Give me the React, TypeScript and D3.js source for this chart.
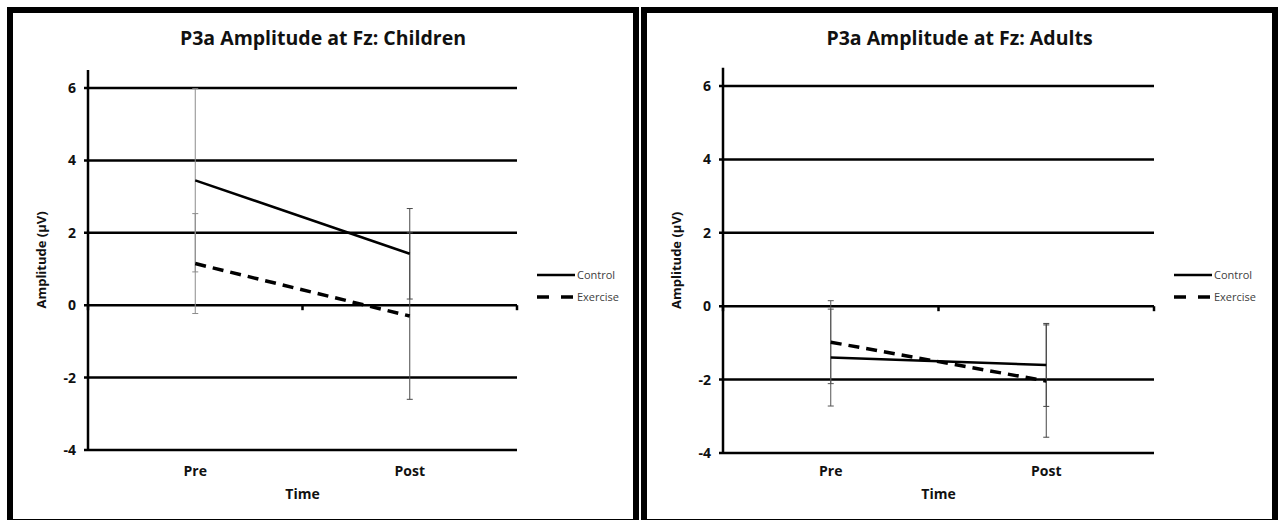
import * as d3 from "d3";

const categories = ["Pre", "Post"];
const yTicks = [-4, -2, 0, 2, 4, 6];
const seriesNames = ["Control", "Exercise"];

const childTitle = "P3a Amplitude at Fz: Children";
const childControl = [3.45, 1.42];
const childControlErr = [2.53, 1.25];
const childExercise = [1.15, -0.3];
const childExerciseErr = [1.38, 2.3];
const childErrColors = ["#8c8c8c", "#4a4a4a"];

const adultTitle = "P3a Amplitude at Fz: Adults";
const adultControl = [-1.4, -1.6];
const adultControlErr = [1.32, 1.13];
const adultExercise = [-0.98, -2.04];
const adultExerciseErr = [1.13, 1.53];
const adultErrColors = ["#555555", "#444444"];

const FONT = "'Open Sans', 'DejaVu Sans', sans-serif";

type PanelProps = {
  title: string;
  control: number[];
  controlErr: number[];
  exercise: number[];
  exerciseErr: number[];
  errColors: string[];
  left: number;
  right: number;
  axisX: number;
  plotRight: number;
  yTop: number;
  yBottom: number;
};

function Panel(p: PanelProps) {
  const x = d3.scaleBand().domain(categories).range([p.axisX, p.plotRight]);
  const y = d3.scaleLinear().domain([-4, 6]).range([p.yBottom, p.yTop]);
  const cx = (c: string) => (x(c) ?? 0) + x.bandwidth() / 2;

  const line = d3.line<number>()
    .x((_, i) => cx(categories[i]))
    .y(v => y(v));

  const series = [
    { name: seriesNames[0], vals: p.control, err: p.controlErr, dash: "none", w: 2.5 },
    { name: seriesNames[1], vals: p.exercise, err: p.exerciseErr, dash: "11,7", w: 3.5 },
  ];

  const axisTop = y(6.5);
  const midX = p.axisX + x.bandwidth();

  return (
    <g>
      {/* panel border */}
      <rect x={p.left + 3} y={10} width={p.right - p.left - 6} height={512}
        fill="white" stroke="black" strokeWidth={6} />

      <text x={(p.left + p.right) / 2} y={45} textAnchor="middle"
        fontFamily={FONT} fontWeight="bold" fontSize={19.5} fill="#111">{p.title}</text>

      {/* gridlines */}
      {yTicks.map(t => (
        <g key={t}>
          <line x1={p.axisX - 4} x2={p.plotRight} y1={y(t)} y2={y(t)} stroke="#000" strokeWidth={2.5} />
          <text x={p.axisX - 12} y={y(t)} dy="0.35em" textAnchor="end"
            fontFamily={FONT} fontWeight="bold" fontSize={14} fill="#111">{t}</text>
        </g>
      ))}

      {/* y axis */}
      <line x1={p.axisX} x2={p.axisX} y1={axisTop} y2={y(-4)} stroke="#000" strokeWidth={2.5} />

      {/* x axis ticks at zero */}
      {[p.axisX, midX, p.plotRight].map((tx, i) => (
        <line key={i} x1={tx} x2={tx} y1={y(0)} y2={y(0) + 5} stroke="#000" strokeWidth={2.5} />
      ))}

      {/* error bars */}
      {series.map(s => s.vals.map((v, i) => {
        const px = cx(categories[i]);
        const hi = y(v + s.err[i]);
        const lo = y(v - s.err[i]);
        return (
          <g key={s.name + i} stroke={p.errColors[i]} strokeWidth={1}>
            <line x1={px} x2={px} y1={hi} y2={lo} />
            <line x1={px - 3} x2={px + 3} y1={hi} y2={hi} />
            <line x1={px - 3} x2={px + 3} y1={lo} y2={lo} />
          </g>
        );
      }))}

      {/* series lines */}
      {series.map(s => (
        <path key={s.name} d={line(s.vals) ?? ""} fill="none" stroke="#000"
          strokeWidth={s.w} strokeDasharray={s.dash} />
      ))}

      {/* category labels */}
      {categories.map(c => (
        <text key={c} x={cx(c)} y={476} textAnchor="middle"
          fontFamily={FONT} fontWeight="bold" fontSize={14} fill="#111">{c}</text>
      ))}
      <text x={midX} y={499} textAnchor="middle"
        fontFamily={FONT} fontWeight="bold" fontSize={14} fill="#111">Time</text>

      <text transform={`translate(${p.axisX - 42},${(axisTop + y(-4)) / 2}) rotate(-90)`}
        textAnchor="middle" fontFamily={FONT} fontWeight="bold" fontSize={13} fill="#111">
        Amplitude (µV)
      </text>

      {/* legend */}
      {series.map((s, i) => (
        <g key={s.name} transform={`translate(${p.plotRight + 20},${275 + i * 22})`}>
          <line x1={0} x2={38} y1={0} y2={0} stroke="#000" strokeWidth={s.w}
            strokeDasharray={s.dash === "none" ? "none" : "12,12"} />
          <text x={40} y={0} dy="0.35em" fontFamily={FONT} fontSize={11} fill="#404040">{s.name}</text>
        </g>
      ))}
    </g>
  );
}

export default function App() {
  return (
    <svg width={1284} height={520} style={{ position: "fixed", left: 0, top: 0, background: "white" }}>
      <rect width={1284} height={520} fill="white" />
      <Panel title={childTitle} control={childControl} controlErr={childControlErr}
        exercise={childExercise} exerciseErr={childExerciseErr} errColors={childErrColors}
        left={7} right={639} axisX={88} plotRight={517} yTop={88} yBottom={450} />
      <Panel title={adultTitle} control={adultControl} controlErr={adultControlErr}
        exercise={adultExercise} exerciseErr={adultExerciseErr} errColors={adultErrColors}
        left={641} right={1278} axisX={723} plotRight={1154} yTop={86} yBottom={453} />
    </svg>
  );
}
